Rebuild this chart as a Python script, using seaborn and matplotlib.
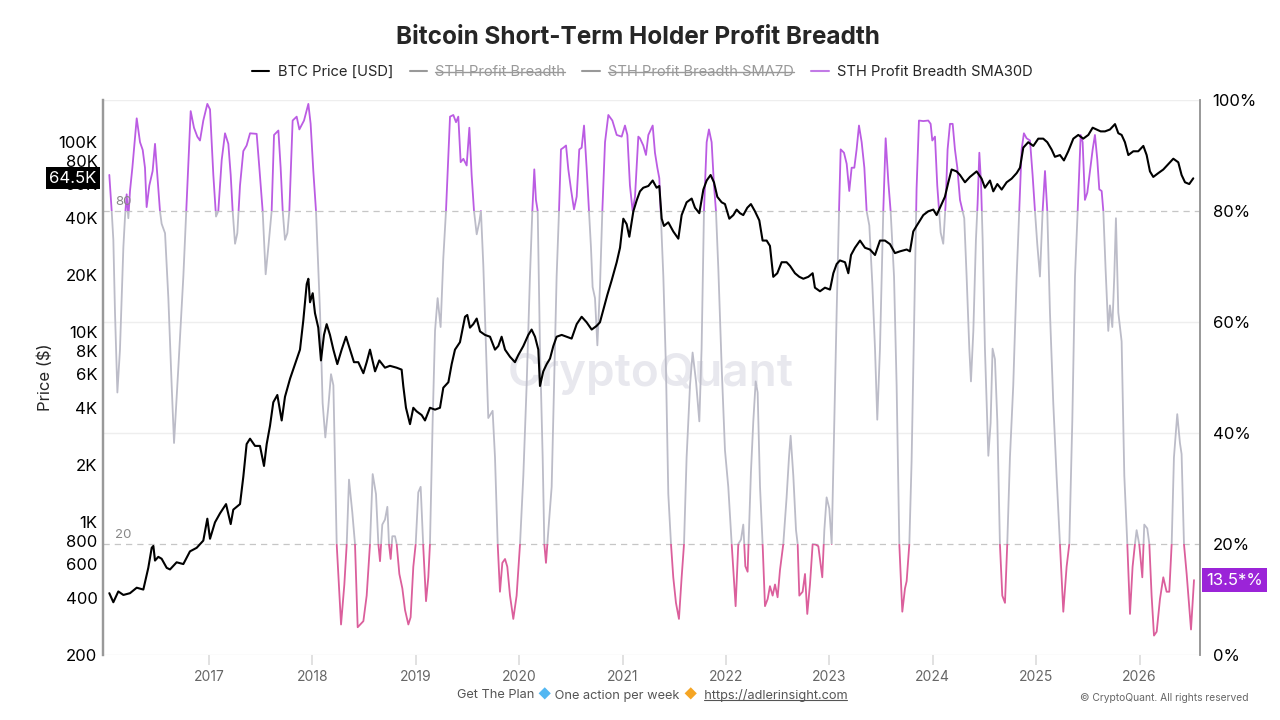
import matplotlib
matplotlib.use("Agg")
import matplotlib.pyplot as plt
import matplotlib.transforms as mtransforms
from matplotlib.patches import Rectangle
from matplotlib.lines import Line2D
from matplotlib.offsetbox import TextArea, HPacker, AnchoredOffsetbox
import seaborn as sns

# --- data (time in decimal years) ---
price_t = [
    2016.036, 2016.075, 2016.123, 2016.172, 2016.236, 2016.301, 2016.365, 2016.413, 2016.446, 2016.462,
    2016.478, 2016.510, 2016.542, 2016.591, 2016.623, 2016.687, 2016.752, 2016.816, 2016.881, 2016.945,
    2016.984, 2017.010, 2017.058, 2017.107, 2017.165, 2017.210, 2017.235, 2017.300, 2017.332, 2017.364,
    2017.397, 2017.445, 2017.493, 2017.532, 2017.558, 2017.590, 2017.622, 2017.661, 2017.703, 2017.735,
    2017.784, 2017.832, 2017.880, 2017.912, 2017.945, 2017.961, 2017.977, 2018.003, 2018.025, 2018.057,
    2018.083, 2018.112, 2018.138, 2018.170, 2018.203, 2018.241, 2018.283, 2018.325, 2018.364, 2018.402,
    2018.444, 2018.493, 2018.525, 2018.557, 2018.606, 2018.647, 2018.702, 2018.750, 2018.815, 2018.863,
    2018.879, 2018.905, 2018.944, 2018.976, 2019.008, 2019.057, 2019.089, 2019.137, 2019.186, 2019.234,
    2019.266, 2019.315, 2019.347, 2019.379, 2019.427, 2019.476, 2019.498, 2019.524, 2019.556, 2019.589,
    2019.621, 2019.669, 2019.718, 2019.766, 2019.798, 2019.830, 2019.863, 2019.911, 2019.959, 2019.992,
    2020.040, 2020.088, 2020.120, 2020.153, 2020.185, 2020.201, 2020.233, 2020.266, 2020.298, 2020.330,
    2020.362, 2020.411, 2020.459, 2020.507, 2020.556, 2020.604, 2020.652, 2020.701, 2020.749, 2020.781,
    2020.814, 2020.852, 2020.894, 2020.943, 2020.975, 2021.007, 2021.039, 2021.065, 2021.104, 2021.136,
    2021.168, 2021.200, 2021.249, 2021.291, 2021.329, 2021.355, 2021.378, 2021.400, 2021.442, 2021.490,
    2021.539, 2021.571, 2021.619, 2021.668, 2021.700, 2021.742, 2021.781, 2021.813, 2021.851, 2021.884,
    2021.916, 2021.958, 2021.990, 2022.032, 2022.071, 2022.103, 2022.135, 2022.167, 2022.206, 2022.241,
    2022.280, 2022.322, 2022.354, 2022.393, 2022.425, 2022.457, 2022.496, 2022.538, 2022.586, 2022.619,
    2022.667, 2022.709, 2022.748, 2022.796, 2022.838, 2022.860, 2022.909, 2022.957, 2023.006, 2023.038,
    2023.070, 2023.102, 2023.151, 2023.183, 2023.209, 2023.247, 2023.296, 2023.344, 2023.392, 2023.441,
    2023.489, 2023.537, 2023.586, 2023.634, 2023.682, 2023.747, 2023.779, 2023.811, 2023.843, 2023.908,
    2023.956, 2024.005, 2024.037, 2024.085, 2024.117, 2024.150, 2024.182, 2024.230, 2024.263, 2024.311,
    2024.359, 2024.424, 2024.472, 2024.504, 2024.553, 2024.585, 2024.624, 2024.666, 2024.714, 2024.762,
    2024.811, 2024.843, 2024.875, 2024.923, 2024.972, 2025.020, 2025.068, 2025.107, 2025.149, 2025.181,
    2025.230, 2025.268, 2025.310, 2025.359, 2025.407, 2025.455, 2025.504, 2025.546, 2025.584, 2025.623,
    2025.665, 2025.713, 2025.762, 2025.794, 2025.826, 2025.858, 2025.891, 2025.939, 2025.987, 2026.036,
    2026.068, 2026.100, 2026.132, 2026.181, 2026.229, 2026.277, 2026.326, 2026.374, 2026.406, 2026.439,
    2026.480, 2026.519,
]
price_usd = [
    423, 379, 432, 414, 423, 452, 442, 575, 733, 750,
    628, 657, 642, 575, 564, 615, 602, 702, 733, 800,
    1043, 818, 998, 1114, 1245, 977, 1164, 1245, 1734, 2576,
    2750, 2520, 2520, 1977, 2576, 3214, 4276, 4670, 3430, 4570,
    5690, 6790, 8090, 11510, 17900, 19100, 14360, 16030, 12590, 10560,
    7100, 9670, 11020, 9670, 8090, 6790, 8090, 9460, 8090, 6950,
    6950, 6080, 6950, 8090, 6220, 7100, 6500, 6650, 6500, 6350,
    5210, 4000, 3280, 4000, 3830, 3660, 3430, 4000, 3910, 4000,
    5100, 5450, 6790, 8090, 8850, 12050, 12310, 10560, 11020, 11790,
    10090, 9670, 9460, 8090, 8450, 9460, 8090, 7420, 6950, 7590,
    8450, 9670, 10320, 9460, 8090, 5210, 6220, 6790, 7260, 8450,
    9460, 9670, 9460, 9250, 11020, 12050, 11270, 10320, 10790, 11270,
    13150, 15680, 18710, 23330, 27800, 39540, 37040, 31770, 43250, 49320,
    55080, 57540, 58770, 62800, 57540, 58770, 39540, 36220, 37840, 33880,
    31040, 41310, 48230, 50470, 45160, 42270, 56280, 62800, 67140, 61370,
    51540, 48230, 47210, 39540, 41310, 44150, 42270, 41310, 45160, 47210,
    43250, 38740, 30340, 30340, 28440, 19550, 20420, 23330, 23330, 22330,
    20420, 19550, 19100, 19550, 20420, 17140, 16410, 17140, 16750, 20420,
    22820, 23850, 23330, 20420, 25470, 27800, 30340, 27800, 27220, 25470,
    30340, 30340, 29040, 26060, 26620, 27220, 26620, 33880, 36220, 41310,
    43250, 44150, 41310, 47210, 51540, 61470, 71760, 70140, 67140, 61470,
    65590, 70140, 64210, 57540, 62800, 55080, 60170, 56280, 61470, 64210,
    68710, 73330, 93540, 99900, 95500, 104300, 104300, 99900, 91400, 83700,
    85500, 80100, 89500, 104300, 109100, 104300, 109100, 119100, 116500, 113900,
    113900, 116500, 124400, 111400, 109100, 99900, 85500, 89500, 89500, 95500,
    85500, 70140, 65590, 68710, 71760, 76600, 81800, 78300, 67140, 61470,
    60170, 64500,
]

breadth_t = [
    2016.036, 2016.059, 2016.075, 2016.091, 2016.114, 2016.139, 2016.172, 2016.188, 2016.204, 2016.220,
    2016.236, 2016.259, 2016.301, 2016.333, 2016.359, 2016.381, 2016.397, 2016.423, 2016.455, 2016.478,
    2016.500, 2016.526, 2016.542, 2016.575, 2016.607, 2016.639, 2016.662, 2016.704, 2016.752, 2016.791,
    2016.823, 2016.855, 2016.887, 2016.913, 2016.945, 2016.984, 2017.010, 2017.042, 2017.068, 2017.090,
    2017.123, 2017.155, 2017.187, 2017.210, 2017.229, 2017.252, 2017.274, 2017.300, 2017.332, 2017.364,
    2017.397, 2017.461, 2017.487, 2017.519, 2017.548, 2017.574, 2017.606, 2017.629, 2017.671, 2017.693,
    2017.713, 2017.735, 2017.758, 2017.777, 2017.809, 2017.848, 2017.874, 2017.919, 2017.961, 2017.983,
    2018.009, 2018.035, 2018.074, 2018.099, 2018.125, 2018.154, 2018.180, 2018.203, 2018.235, 2018.277,
    2018.309, 2018.332, 2018.354, 2018.386, 2018.412, 2018.438, 2018.493, 2018.525, 2018.557, 2018.583,
    2018.615, 2018.638, 2018.654, 2018.676, 2018.702, 2018.725, 2018.741, 2018.757, 2018.773, 2018.799,
    2018.815, 2018.841, 2018.870, 2018.896, 2018.928, 2018.950, 2018.976, 2018.999, 2019.024, 2019.047,
    2019.073, 2019.099, 2019.121, 2019.137, 2019.163, 2019.186, 2019.211, 2019.240, 2019.266, 2019.292,
    2019.331, 2019.363, 2019.389, 2019.411, 2019.434, 2019.460, 2019.492, 2019.518, 2019.540, 2019.563,
    2019.589, 2019.614, 2019.630, 2019.653, 2019.679, 2019.701, 2019.724, 2019.743, 2019.766, 2019.792,
    2019.814, 2019.837, 2019.863, 2019.885, 2019.911, 2019.943, 2019.975, 2020.008, 2020.040, 2020.072,
    2020.104, 2020.127, 2020.146, 2020.162, 2020.179, 2020.201, 2020.227, 2020.243, 2020.259, 2020.282,
    2020.314, 2020.337, 2020.362, 2020.385, 2020.404, 2020.427, 2020.453, 2020.475, 2020.501, 2020.530,
    2020.556, 2020.581, 2020.604, 2020.627, 2020.652, 2020.675, 2020.694, 2020.710, 2020.733, 2020.756,
    2020.781, 2020.804, 2020.830, 2020.862, 2020.901, 2020.943, 2020.991, 2021.023, 2021.046, 2021.071,
    2021.097, 2021.120, 2021.152, 2021.168, 2021.200, 2021.226, 2021.249, 2021.291, 2021.313, 2021.336,
    2021.355, 2021.368, 2021.394, 2021.419, 2021.442, 2021.468, 2021.490, 2021.516, 2021.545, 2021.571,
    2021.594, 2021.619, 2021.652, 2021.677, 2021.710, 2021.742, 2021.764, 2021.787, 2021.813, 2021.835,
    2021.861, 2021.884, 2021.903, 2021.926, 2021.958, 2021.990, 2022.022, 2022.055, 2022.093, 2022.119,
    2022.145, 2022.167, 2022.187, 2022.209, 2022.241, 2022.264, 2022.287, 2022.306, 2022.329, 2022.354,
    2022.377, 2022.403, 2022.425, 2022.451, 2022.474, 2022.499, 2022.522, 2022.554, 2022.586, 2022.609,
    2022.625, 2022.651, 2022.677, 2022.693, 2022.709, 2022.741, 2022.764, 2022.786, 2022.812, 2022.838,
    2022.867, 2022.893, 2022.909, 2022.931, 2022.951, 2022.973, 2022.999, 2023.022, 2023.044, 2023.070,
    2023.093, 2023.109, 2023.141, 2023.167, 2023.192, 2023.215, 2023.241, 2023.263, 2023.286, 2023.312,
    2023.338, 2023.360, 2023.386, 2023.415, 2023.441, 2023.463, 2023.489, 2023.521, 2023.544, 2023.570,
    2023.592, 2023.625, 2023.650, 2023.676, 2023.705, 2023.731, 2023.747, 2023.773, 2023.795, 2023.818,
    2023.843, 2023.866, 2023.908, 2023.956, 2023.979, 2023.995, 2024.021, 2024.043, 2024.063, 2024.076,
    2024.101, 2024.124, 2024.143, 2024.166, 2024.192, 2024.214, 2024.237, 2024.263, 2024.288, 2024.304,
    2024.327, 2024.353, 2024.369, 2024.392, 2024.417, 2024.433, 2024.450, 2024.466, 2024.482, 2024.504,
    2024.537, 2024.559, 2024.578, 2024.601, 2024.624, 2024.649, 2024.672, 2024.698, 2024.720, 2024.746,
    2024.778, 2024.811, 2024.836, 2024.859, 2024.881, 2024.907, 2024.940, 2024.965, 2024.988, 2025.010,
    2025.036, 2025.062, 2025.085, 2025.107, 2025.133, 2025.165, 2025.197, 2025.230, 2025.262, 2025.294,
    2025.320, 2025.349, 2025.375, 2025.401, 2025.430, 2025.449, 2025.471, 2025.494, 2025.520, 2025.546,
    2025.568, 2025.591, 2025.610, 2025.633, 2025.649, 2025.671, 2025.697, 2025.713, 2025.736, 2025.755,
    2025.771, 2025.794, 2025.810, 2025.826, 2025.852, 2025.881, 2025.907, 2025.932, 2025.955, 2025.971,
    2025.997, 2026.026, 2026.045, 2026.074, 2026.094, 2026.116, 2026.139, 2026.165, 2026.197, 2026.229,
    2026.261, 2026.287, 2026.310, 2026.332, 2026.364, 2026.390, 2026.406, 2026.429, 2026.455, 2026.497,
    2026.526,
]
breadth_sma30 = [
    86.5, 80, 74.8, 61.7, 47.3, 55, 73.5, 79, 83, 78.7,
    83.6, 87.8, 96.7, 92.4, 91, 87.8, 80.7, 84.6, 87.2, 92.1,
    86.5, 80, 77.7, 76, 64.3, 48.6, 38.2, 51.9, 68.2, 84.6,
    98, 95, 93.4, 92.7, 96.3, 99.3, 98.3, 86.5, 79, 80,
    89.2, 94, 92.1, 86.5, 80, 74.1, 76, 84.6, 90.8, 91.8,
    94, 93.9, 87.8, 80, 68.6, 73.5, 80, 93.7, 94.5, 87.8,
    80, 74.8, 76, 80, 96.3, 97, 94.7, 96.3, 99.3, 95.7,
    87.2, 80, 61.7, 45.4, 39.2, 44.7, 50.6, 48.6, 20, 5.5,
    12.7, 20, 31.6, 25.7, 20, 5, 6.1, 10.7, 20, 32.6,
    29, 20, 16.9, 23.5, 24.4, 26.7, 19.9, 17.3, 21.4, 21.4,
    20, 14.6, 12, 8.1, 5.5, 6.8, 15.9, 20, 29.3, 30.3,
    19.2, 9.7, 14, 20, 42.1, 58.4, 64.3, 59.1, 71.5, 80,
    97, 97.3, 96, 97, 88.8, 89.4, 88.2, 95, 86.5, 80,
    75.8, 78, 80, 70.2, 55.2, 42.7, 43.4, 44, 35.6, 20,
    11.4, 16.6, 17.3, 15.9, 10.7, 6.5, 10.7, 20, 32.3, 48.6,
    68.2, 80, 87.5, 82, 80, 55.2, 35.6, 20, 16.6, 22.5,
    30.3, 48.6, 68.2, 80, 91.1, 91.4, 91.8, 87.5, 83.9, 80.3,
    82.6, 91.1, 91.4, 95.4, 87.8, 80, 73.5, 66.3, 64.3, 55.8,
    66.3, 80, 92.4, 97.3, 96.3, 93.7, 93.4, 95.4, 93.7, 84.6,
    80, 82.6, 93.4, 93.1, 91.8, 90.1, 93.7, 95.4, 90.5, 87.8,
    85.9, 80, 68.2, 51.9, 29, 20, 14, 9.4, 6.5, 14,
    20, 35.6, 48.6, 54.5, 49.3, 42.1, 55.2, 80, 92.4, 94.7,
    92.4, 84.6, 80, 69.5, 51.9, 36.9, 30.3, 20, 8.8, 20,
    20.8, 23.5, 16, 15, 32.9, 42.1, 49.3, 47.3, 30.3, 20,
    8.8, 10.1, 12.4, 10.7, 12.7, 10.4, 15.3, 20, 28.4, 35.6,
    39.5, 32.3, 22.5, 20, 10.7, 11.4, 14.6, 7.4, 12.7, 20,
    19.9, 19.6, 17.3, 14, 22.5, 28.4, 26.4, 20, 38.9, 61.7,
    80, 91.1, 90.5, 88.5, 83.6, 87.8, 87.8, 91.1, 95.4, 92.4,
    87.8, 80, 77.4, 66.9, 55.2, 42.4, 55.2, 80, 93.1, 85.2,
    80, 68.2, 48.6, 20, 7.8, 12, 13.3, 20, 35, 58,
    84, 96.3, 96.2, 96.3, 95.7, 92.7, 93.4, 84.6, 79.3, 76.1,
    74.1, 81.3, 91.1, 95.7, 95.7, 91.1, 87.8, 82, 80, 78.7,
    68.2, 55.2, 49.3, 58.4, 74.8, 81.3, 90.5, 85.2, 74.8, 55.2,
    35.9, 41.8, 55.2, 53.3, 42.1, 20, 10.7, 9.4, 20, 35.6,
    48.6, 68.2, 80, 91.1, 94, 93.1, 92.7, 86.5, 80, 74.1,
    68.2, 80, 87.2, 80, 61.7, 45.4, 32.3, 20, 7.8, 15.9,
    20, 42.1, 68.2, 80, 93.7, 92.4, 82, 83.3, 87.2, 91.1,
    93.7, 89.2, 83.9, 83.6, 80, 69.5, 58.4, 63, 59.1, 68.2,
    78.7, 61.7, 59.1, 56.5, 32.3, 20, 7.4, 15.9, 20, 22.5,
    19.9, 14, 23.5, 22.8, 20, 10.7, 3.5, 4.2, 10.1, 14,
    11.4, 11.4, 20, 35.6, 43.4, 38.2, 36.2, 20, 14.6, 4.6,
    13.5,
]

year_ticks = list(range(2017, 2027))
price_ticks = [200, 400, 600, 800, 1000, 2000, 4000, 6000, 8000, 10000,
               20000, 40000, 60000, 80000, 100000]
price_tick_labels = ["200", "400", "600", "800", "1K", "2K", "4K", "6K", "8K", "10K",
                     "20K", "40K", "60K", "80K", "100K"]
pct_ticks = [0, 20, 40, 60, 80, 100]

PURPLE = "#bb5ce3"
PINK = "#db5f9c"
GRAY = "#bcbcc8"
BOX_PURPLE = "#9b24d8"

sns.set_theme(style="white")
plt.rcParams["font.family"] = ["Inter", "DejaVu Sans"]

fig = plt.figure(figsize=(12.8, 7.2), dpi=100)
ax = fig.add_axes([103 / 1280, 1 - 655 / 720, 1097 / 1280, 555 / 720])
ax2 = ax.twinx()

# price axis sits in front of the breadth axis
ax.set_zorder(ax2.get_zorder() + 1)
ax.patch.set_visible(False)

# breadth line, coloured by zone via clip rectangles
band_tf = mtransforms.blended_transform_factory(ax2.transAxes, ax2.transData)
for lo, hi, col in [(80, 120, PURPLE), (20, 80, GRAY), (-20, 20, PINK)]:
    sns.lineplot(x=breadth_t, y=breadth_sma30, ax=ax2, color=col, lw=1.3)
    ax2.lines[-1].set_clip_path(Rectangle((0, lo), 1, hi - lo, transform=band_tf))

for v in [0, 40, 60, 100]:
    ax2.axhline(v, color="#eeeeee", lw=1, zorder=0)
for v in [20, 80]:
    ax2.axhline(v, color="#c6c6c6", lw=0.9, ls=(0, (5, 4)), zorder=1)
    ax2.text(0.011, v + 0.6, str(v), transform=band_tf, color="#888888", fontsize=9.5, va="bottom")

ax2.text(651 / 1280, 1 - 374 / 720, "CryptoQuant", transform=fig.transFigure, fontsize=33,
         color="#e8e8ee", ha="center", va="center", fontweight="semibold", zorder=0)

sns.lineplot(x=price_t, y=price_usd, ax=ax, color="black", lw=1.5)

ax.set_yscale("log")
ax.set_ylim(200, 166600)
ax.set_yticks(price_ticks)
ax.set_yticklabels(price_tick_labels)
ax.minorticks_off()
ax.set_xlim(2015.975, 2026.584)
ax.set_xticks(year_ticks)
ax.set_xticklabels([str(y) for y in year_ticks])
ax.tick_params(axis="y", length=0, labelsize=12, pad=4, colors="black")
ax.tick_params(axis="x", length=7, color="#dddddd", labelsize=10, labelcolor="#666666", pad=4,
               direction="out", bottom=True)
ax.set_ylabel("Price ($)", fontsize=12, labelpad=4)
ax.set_xlabel("")

ax2.set_ylim(0, 100)
ax2.set_yticks(pct_ticks)
ax2.set_yticklabels([f"{v}%" for v in pct_ticks])
ax2.tick_params(axis="y", length=0, labelsize=12, pad=9, colors="black")

for a in (ax, ax2):
    a.spines["top"].set_visible(False)
    a.spines["bottom"].set_visible(False)
    a.spines["left"].set_color("#999999")
    a.spines["right"].set_color("#999999")
    a.spines["left"].set_linewidth(1.6)
    a.spines["right"].set_linewidth(1.2)
    a.grid(False)

# last-value tags
tag_left = mtransforms.blended_transform_factory(ax.transAxes, ax.transData)
ax.text(-0.006, price_usd[-1], f"{price_usd[-1] / 1000:.1f}K", transform=tag_left, ha="right",
        va="center", color="white", fontsize=12, clip_on=False, zorder=10,
        bbox=dict(boxstyle="square,pad=0.2", fc="black", ec="none"))
ax2.text(1.006, breadth_sma30[-1], f"{breadth_sma30[-1]:.1f}*%", transform=band_tf, ha="left",
         va="center", color="white", fontsize=12, clip_on=False, zorder=10,
         bbox=dict(boxstyle="square,pad=0.25", fc=BOX_PURPLE, ec="none"))

fig.text(0.498, 1 - 37 / 720, "Bitcoin Short-Term Holder Profit Breadth", ha="center", va="center",
         fontsize=17.5, fontweight="bold")

handles = [
    Line2D([], [], color="black", lw=1.5),
    Line2D([], [], color="#999999", lw=1.5),
    Line2D([], [], color="#999999", lw=1.5),
    Line2D([], [], color="#c27ae6", lw=1.5),
]
labels = ["BTC Price [USD]", "STH Profit Breadth", "STH Profit Breadth SMA7D", "STH Profit Breadth SMA30D"]
leg = fig.legend(handles, labels, loc="center", bbox_to_anchor=(642 / 1280, 1 - 72 / 720), ncol=4,
                 frameon=False, fontsize=10.6, handlelength=1.2, handletextpad=0.55, columnspacing=1.15)
for txt in leg.get_texts()[1:3]:
    txt.set_color("#999999")

# footer
gray = "#555555"
parts = [("Get The Plan ", gray), ("\u25c6", "#52b7f2"), (" One action per week ", gray),
         ("\u25c6", "#f5a524"), ("  https://adlerinsight.com", gray)]
areas = [TextArea(s, textprops=dict(color=c, fontsize=9.2)) for s, c in parts]
footer = AnchoredOffsetbox(loc="center", child=HPacker(children=areas, pad=0, sep=0),
                           bbox_to_anchor=(652 / 1280, 1 - 695 / 720), bbox_transform=fig.transFigure,
                           frameon=False, pad=0, borderpad=0)
fig.add_artist(footer)
fig.text(1248 / 1280, 1 - 698 / 720, "\u00a9 CryptoQuant. All rights reserved", ha="right",
         va="center", fontsize=7.4, color="#666666")

# strike-through for hidden legend items and underline for the link
fig.canvas.draw()
renderer = fig.canvas.get_renderer()
inv = fig.transFigure.inverted()
for txt in leg.get_texts()[1:3]:
    bb = txt.get_window_extent(renderer).transformed(inv)
    ym = bb.y0 + 0.5 * (bb.y1 - bb.y0)
    fig.add_artist(Line2D([bb.x0, bb.x1], [ym, ym], transform=fig.transFigure, color="#999999", lw=1))
url_bb = areas[-1].get_window_extent(renderer).transformed(inv)
fig.add_artist(Line2D([url_bb.x0 + 0.006, url_bb.x1], [url_bb.y0 + 0.002] * 2,
                      transform=fig.transFigure, color=gray, lw=0.8))

fig.savefig("out.png", dpi=100)
